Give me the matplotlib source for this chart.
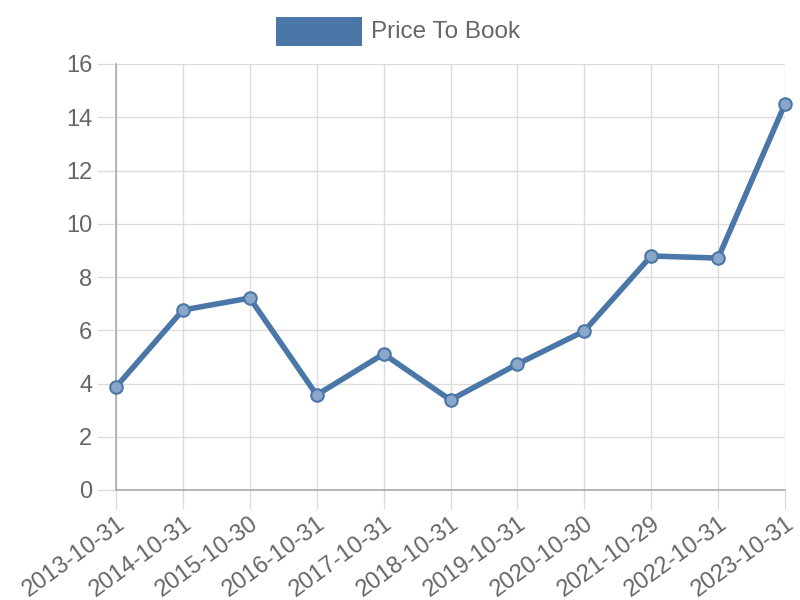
import matplotlib.pyplot as plt
from matplotlib.patches import Rectangle

dates = ['2013-10-31', '2014-10-31', '2015-10-30', '2016-10-31', '2017-10-31',
         '2018-10-31', '2019-10-31', '2020-10-30', '2021-10-29', '2022-10-31',
         '2023-10-31']
price_to_book = [3.87, 6.76, 7.21, 3.57, 5.11, 3.38, 4.73, 5.97, 8.79, 8.71, 14.5]

LINE_COLOR = '#4a76a8'
MARKER_FILL = '#8aa6c8'
GRID_COLOR = '#dcdcdc'
AXIS_COLOR = '#aaaaaa'
TEXT_COLOR = '#666666'

plt.rcParams['font.family'] = ['Liberation Sans', 'DejaVu Sans']

fig = plt.figure(figsize=(8, 6), dpi=100)
ax = fig.add_axes([116 / 800, 110 / 600, 669 / 800, 426 / 600])

x = list(range(len(dates)))
ax.plot(x, price_to_book, color=LINE_COLOR, linewidth=4, zorder=3,
        solid_joinstyle='round', clip_on=False)
ax.plot(x, price_to_book, linestyle='none', marker='o', markersize=9,
        markerfacecolor=MARKER_FILL, markeredgecolor=LINE_COLOR,
        markeredgewidth=1.5, zorder=4, clip_on=False)

ax.set_xlim(0, len(dates) - 1)
ax.set_ylim(0, 16)
ax.set_yticks(range(0, 17, 2))
ax.set_xticks(x)
ax.set_xticklabels(dates, rotation=36, ha='right', rotation_mode='anchor')

ax.grid(True, color=GRID_COLOR, linewidth=1)
ax.set_axisbelow(True)
for side in ['top', 'right']:
    ax.spines[side].set_visible(False)
for side in ['left', 'bottom']:
    ax.spines[side].set_color(AXIS_COLOR)
    ax.spines[side].set_linewidth(1.2)

ax.tick_params(axis='both', colors=GRID_COLOR, labelcolor=TEXT_COLOR,
               labelsize=17, length=14, width=1)
ax.tick_params(axis='x', pad=2)
ax.tick_params(axis='y', pad=3)

# legend drawn at the top
fig.patches.append(Rectangle((276 / 800, 1 - 46 / 600), 86 / 800, 29 / 600,
                             transform=fig.transFigure, facecolor=LINE_COLOR,
                             edgecolor='none'))
fig.text(371 / 800, 1 - 32 / 600, 'Price To Book', fontsize=17.5,
         color=TEXT_COLOR, va='center', ha='left')

fig.savefig('out.png', dpi=100)
